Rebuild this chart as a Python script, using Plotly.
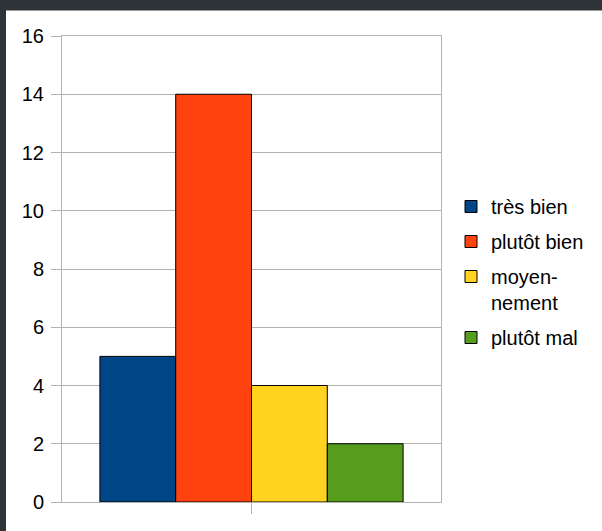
import plotly.graph_objects as go

categories = [""]
series_names = ["très bien", "plutôt bien", "moyen-<br>nement", "plutôt mal"]
series_values = [[5], [14], [4], [2]]
series_colors = ["#004586", "#ff420e", "#ffd320", "#579d1c"]
y_ticks = [0, 2, 4, 6, 8, 10, 12, 14, 16]

fig = go.Figure()
for i, (name, vals, col) in enumerate(zip(series_names, series_values, series_colors)):
    fig.add_trace(go.Bar(
        x=categories, y=vals, name=name, legendgroup=f"g{i}",
        marker=dict(color=col, line=dict(color="#000000", width=1)),
    ))

ML, MR, MT, MB = 62, 161, 36, 29
W, H = 602, 531
PW, PH = W - ML - MR, H - MT - MB

def px_x(p):
    return (p - ML) / PW

def px_y(p):
    return (H - MB - p) / PH

dark = "#2d3337"
shapes = [
    dict(type="rect", xref="paper", yref="paper", x0=px_x(0), x1=px_x(W), y0=px_y(0), y1=px_y(10),
         fillcolor=dark, line=dict(width=0), layer="above"),
    dict(type="rect", xref="paper", yref="paper", x0=px_x(0), x1=px_x(6), y0=px_y(0), y1=px_y(H),
         fillcolor=dark, line=dict(width=0), layer="above"),
    dict(type="line", xref="paper", yref="paper", x0=px_x(6), x1=px_x(W), y0=px_y(10.5), y1=px_y(10.5),
         line=dict(color="#9a9a9a", width=1), layer="above"),
]

fig.update_layout(
    template="none",
    width=W, height=H,
    margin=dict(l=ML, r=MR, t=MT, b=MB),
    paper_bgcolor="white", plot_bgcolor="white",
    font=dict(family="Liberation Sans, Arial, sans-serif", size=20, color="#000000"),
    barmode="group", bargap=0.2, bargroupgap=0,
    showlegend=True,
    legend=dict(x=px_x(451), xanchor="left", y=px_y(187), yanchor="top",
                tracegroupgap=6, valign="top", traceorder="grouped",
                font=dict(size=20), bgcolor="rgba(0,0,0,0)"),
    shapes=shapes,
    xaxis=dict(type="category", showticklabels=False, ticks="outside", ticklen=11,
               tickcolor="#b3b3b3", showline=True, linecolor="#b3b3b3", mirror=True,
               showgrid=False, automargin=False, zeroline=False),
    yaxis=dict(range=[0, 16], tickvals=y_ticks, ticks="outside", ticklen=10,
               tickcolor="#b3b3b3", showline=True, linecolor="#b3b3b3", mirror=True,
               showgrid=True, gridcolor="#b3b3b3", gridwidth=1, automargin=False,
               zeroline=False, tickfont=dict(size=20), ticklabelstandoff=3),
)

fig.write_html("out.html", config={"displayModeBar": False},
               post_script="document.body.style.margin='0';")
